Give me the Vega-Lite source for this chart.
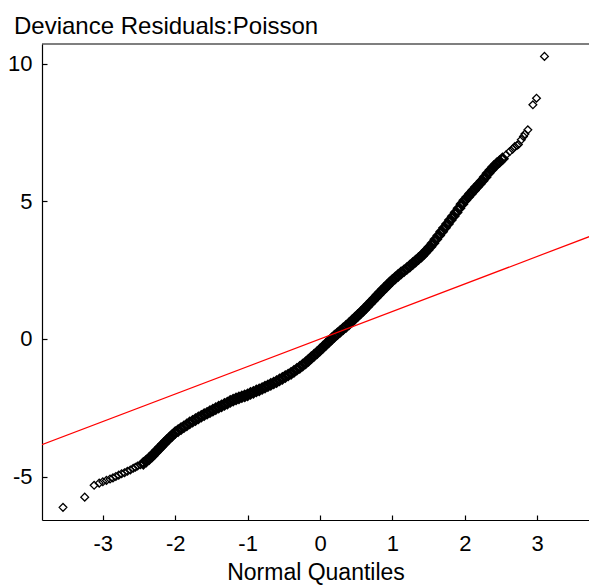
{
  "$schema": "https://vega.github.io/schema/vega-lite/v6.json",
  "autosize": "none",
  "padding": {"left": 42, "top": 44, "right": 0, "bottom": 68},
  "width": 547,
  "height": 476,
  "background": "white",
  "title": {"text": "Deviance Residuals:Poisson", "anchor": "start", "frame": "group", "font": "Liberation Sans", "fontSize": 24, "fontWeight": "normal", "color": "black", "dx": -28, "offset": 4},
  "config": {"view": {"stroke": null}},
  "datasets": {
    "qq": [
      {"q": -3.55, "r": -6.12}, {"q": -3.25, "r": -5.75}, {"q": -3.12, "r": -5.32}, {"q": -3.05, "r": -5.24},
      {"q": -3.00, "r": -5.19}, {"q": -2.95, "r": -5.14}, {"q": -2.90, "r": -5.09}, {"q": -2.86, "r": -5.05},
      {"q": -2.82, "r": -5.00}, {"q": -2.78, "r": -4.95}, {"q": -2.74, "r": -4.90}, {"q": -2.70, "r": -4.86},
      {"q": -2.66, "r": -4.81}, {"q": -2.62, "r": -4.76}, {"q": -2.58, "r": -4.70}, {"q": -2.55, "r": -4.66},
      {"q": -2.52, "r": -4.62}, {"q": -2.48, "r": -4.57},
      {"q": -2.44, "r": -4.52}, {"q": -2.40, "r": -4.44}, {"q": -2.36, "r": -4.35}, {"q": -2.32, "r": -4.25},
      {"q": -2.28, "r": -4.14}, {"q": -2.24, "r": -4.03}, {"q": -2.20, "r": -3.92}, {"q": -2.16, "r": -3.81},
      {"q": -2.12, "r": -3.70}, {"q": -2.08, "r": -3.60}, {"q": -2.04, "r": -3.50}, {"q": -2.00, "r": -3.40},
      {"q": -1.96, "r": -3.33}, {"q": -1.92, "r": -3.26}, {"q": -1.88, "r": -3.19}, {"q": -1.84, "r": -3.12},
      {"q": -1.80, "r": -3.05}, {"q": -1.76, "r": -2.99}, {"q": -1.72, "r": -2.93}, {"q": -1.68, "r": -2.87},
      {"q": -1.64, "r": -2.81}, {"q": -1.60, "r": -2.75}, {"q": -1.56, "r": -2.70}, {"q": -1.52, "r": -2.64},
      {"q": -1.48, "r": -2.59}, {"q": -1.44, "r": -2.53}, {"q": -1.40, "r": -2.48}, {"q": -1.36, "r": -2.43},
      {"q": -1.32, "r": -2.38}, {"q": -1.28, "r": -2.33}, {"q": -1.24, "r": -2.27}, {"q": -1.20, "r": -2.22},
      {"q": -1.16, "r": -2.18}, {"q": -1.12, "r": -2.14}, {"q": -1.08, "r": -2.10}, {"q": -1.04, "r": -2.07},
      {"q": -1.00, "r": -2.03}, {"q": -0.96, "r": -1.98}, {"q": -0.92, "r": -1.94}, {"q": -0.88, "r": -1.89},
      {"q": -0.84, "r": -1.85}, {"q": -0.80, "r": -1.80}, {"q": -0.76, "r": -1.75}, {"q": -0.72, "r": -1.70},
      {"q": -0.68, "r": -1.65}, {"q": -0.64, "r": -1.60}, {"q": -0.60, "r": -1.55}, {"q": -0.56, "r": -1.49},
      {"q": -0.52, "r": -1.43}, {"q": -0.48, "r": -1.37}, {"q": -0.44, "r": -1.31}, {"q": -0.40, "r": -1.25},
      {"q": -0.36, "r": -1.18}, {"q": -0.32, "r": -1.10}, {"q": -0.28, "r": -1.03}, {"q": -0.24, "r": -0.95},
      {"q": -0.20, "r": -0.87}, {"q": -0.16, "r": -0.78}, {"q": -0.12, "r": -0.68}, {"q": -0.08, "r": -0.59},
      {"q": -0.04, "r": -0.50}, {"q": 0.00, "r": -0.40}, {"q": 0.04, "r": -0.30}, {"q": 0.08, "r": -0.20},
      {"q": 0.12, "r": -0.10}, {"q": 0.16, "r": 0.00}, {"q": 0.20, "r": 0.10}, {"q": 0.24, "r": 0.19},
      {"q": 0.28, "r": 0.28}, {"q": 0.32, "r": 0.37}, {"q": 0.36, "r": 0.46}, {"q": 0.40, "r": 0.55},
      {"q": 0.44, "r": 0.65}, {"q": 0.48, "r": 0.75}, {"q": 0.52, "r": 0.85}, {"q": 0.56, "r": 0.95},
      {"q": 0.60, "r": 1.05}, {"q": 0.64, "r": 1.16}, {"q": 0.68, "r": 1.27}, {"q": 0.72, "r": 1.38},
      {"q": 0.76, "r": 1.49}, {"q": 0.80, "r": 1.60}, {"q": 0.84, "r": 1.71}, {"q": 0.88, "r": 1.82},
      {"q": 0.92, "r": 1.92}, {"q": 0.96, "r": 2.03}, {"q": 1.00, "r": 2.13}, {"q": 1.04, "r": 2.22},
      {"q": 1.08, "r": 2.31}, {"q": 1.12, "r": 2.40}, {"q": 1.16, "r": 2.48}, {"q": 1.20, "r": 2.56},
      {"q": 1.24, "r": 2.65}, {"q": 1.28, "r": 2.74}, {"q": 1.32, "r": 2.83}, {"q": 1.36, "r": 2.92},
      {"q": 1.40, "r": 3.01}, {"q": 1.44, "r": 3.12}, {"q": 1.48, "r": 3.23}, {"q": 1.52, "r": 3.35},
      {"q": 1.56, "r": 3.48}, {"q": 1.60, "r": 3.62}, {"q": 1.64, "r": 3.76}, {"q": 1.68, "r": 3.90},
      {"q": 1.72, "r": 4.04}, {"q": 1.76, "r": 4.18}, {"q": 1.80, "r": 4.32}, {"q": 1.84, "r": 4.46},
      {"q": 1.88, "r": 4.60}, {"q": 1.92, "r": 4.75}, {"q": 1.96, "r": 4.90}, {"q": 2.00, "r": 5.04},
      {"q": 2.04, "r": 5.16}, {"q": 2.08, "r": 5.28}, {"q": 2.12, "r": 5.40}, {"q": 2.16, "r": 5.52},
      {"q": 2.20, "r": 5.63}, {"q": 2.24, "r": 5.75}, {"q": 2.28, "r": 5.88}, {"q": 2.32, "r": 6.02},
      {"q": 2.36, "r": 6.14}, {"q": 2.40, "r": 6.26}, {"q": 2.44, "r": 6.36}, {"q": 2.48, "r": 6.45},
      {"q": 2.52, "r": 6.55}, {"q": 2.57, "r": 6.69}, {"q": 2.62, "r": 6.81}, {"q": 2.66, "r": 6.90},
      {"q": 2.69, "r": 6.99}, {"q": 2.72, "r": 7.03}, {"q": 2.74, "r": 7.07}, {"q": 2.78, "r": 7.24},
      {"q": 2.81, "r": 7.36}, {"q": 2.83, "r": 7.45}, {"q": 2.87, "r": 7.60}, {"q": 2.94, "r": 8.51},
      {"q": 2.99, "r": 8.75}, {"q": 3.10, "r": 10.27}
    ],
    "ref": [
      {"q": -3.9, "r": -3.9},
      {"q": 3.8, "r": 3.8}
    ]
  },
  "encoding": {
    "x": {
      "field": "q", "type": "quantitative",
      "scale": {"domain": [-3.84, 3.715], "nice": false, "zero": false},
      "axis": {
        "values": [-3, -2, -1, 0, 1, 2, 3], "grid": false,
        "labelExpr": "replace(datum.label, '−', '-')",
        "domainColor": "black", "domainWidth": 1.2, "tickColor": "black", "tickSize": -5, "tickWidth": 1.2,
        "labelFont": "Liberation Sans", "labelFontSize": 22, "labelColor": "black", "labelPadding": 18,
        "title": "Normal Quantiles", "titleFont": "Liberation Sans", "titleFontSize": 23, "titleFontWeight": "normal",
        "titleColor": "black", "titlePadding": 7
      }
    },
    "y": {
      "field": "r", "type": "quantitative",
      "scale": {"domain": [-6.58, 10.72], "nice": false, "zero": false},
      "axis": {
        "values": [-5, 0, 5, 10], "grid": false,
        "labelExpr": "replace(datum.label, '−', '-')",
        "domainColor": "black", "domainWidth": 1.2, "tickColor": "black", "tickSize": -5, "tickWidth": 1.2,
        "labelFont": "Liberation Sans", "labelFontSize": 22, "labelColor": "black", "labelPadding": 15,
        "title": null
      }
    }
  },
  "layer": [
    {
      "data": {"name": "qq"},
      "transform": [{"filter": "datum.q < -2.46 || datum.q > 2.55"}],
      "mark": {"type": "point", "shape": "diamond", "filled": false, "size": 60, "stroke": "black", "strokeWidth": 1.3, "opacity": 1, "clip": true}
    },
    {
      "data": {"name": "qq"},
      "transform": [{"filter": "datum.q >= -2.46 && datum.q <= 2.55"}],
      "mark": {"type": "point", "shape": "diamond", "filled": false, "size": 80, "stroke": "black", "strokeWidth": 3, "opacity": 1, "clip": true}
    },
    {
      "data": {"name": "ref"},
      "mark": {"type": "line", "color": "#ff0000", "strokeWidth": 1.2, "clip": true}
    },
    {
      "data": {"values": [{"q": 0}]},
      "mark": {"type": "rule", "color": "black", "strokeWidth": 1.2},
      "encoding": {"x": {"value": 0}, "x2": {"value": 547}, "y": {"value": 0}}
    }
  ]
}
